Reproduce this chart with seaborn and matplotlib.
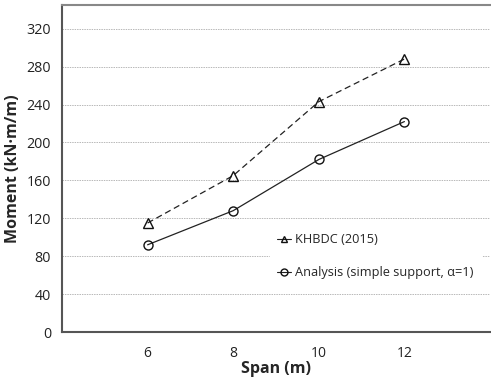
import matplotlib
matplotlib.use("Agg")
import matplotlib.pyplot as plt
import seaborn as sns
import pandas as pd

span = [6, 8, 10, 12]
khbdc = [115, 165, 243, 288]
analysis = [92, 128, 182, 222]
xticks = [6, 8, 10, 12]
yticks = [0, 40, 80, 120, 160, 200, 240, 280, 320]
label_khbdc = "KHBDC (2015)"
label_analysis = "Analysis (simple support, α=1)"

sns.set_theme(style="white")
plt.rcParams['font.family'] = ['Open Sans', 'DejaVu Sans']

df = pd.concat([
    pd.DataFrame({"Span": span, "Moment": khbdc, "Series": label_khbdc}),
    pd.DataFrame({"Span": span, "Moment": analysis, "Series": label_analysis}),
])

fig = plt.figure(figsize=(4.91, 3.82), dpi=100)
ax = fig.add_axes([62/491, 50/382, 428/491, 327/382])

sns.lineplot(data=df, x="Span", y="Moment", hue="Series", style="Series",
             markers={label_khbdc: "^", label_analysis: "o"},
             dashes={label_khbdc: (5, 3), label_analysis: ""},
             palette={label_khbdc: "#222222", label_analysis: "#222222"},
             markerfacecolor="none", markeredgecolor="#111111", markersize=6.5,
             markeredgewidth=1.0, linewidth=0.9, ax=ax)

ax.set_xlim(4, 14)
ax.set_ylim(0, 345)
ax.set_xticks(xticks)
ax.set_yticks(yticks)
ax.tick_params(axis='x', direction='in', length=4, color='#bbbbbb', labelsize=10, pad=10, labelcolor='#222222')
ax.tick_params(axis='y', length=0, labelsize=10.3, pad=8, labelcolor='#222222')
ax.yaxis.grid(True, linestyle=(0, (1.5, 1)), color='#b8b8b8', linewidth=0.7)
ax.set_axisbelow(True)

for s in ['left', 'bottom']:
    ax.spines[s].set_color('#555555')
    ax.spines[s].set_linewidth(1.5)
ax.spines['top'].set_color('#888888')
ax.spines['top'].set_linewidth(1.5)
ax.spines['right'].set_visible(False)

ax.set_xlabel("Span (m)", fontsize=11.5, fontweight='bold', labelpad=0)
ax.set_ylabel("Moment (kN·m/m)", fontsize=11.5, fontweight='bold', labelpad=4)

leg = ax.legend(loc='upper left', bbox_to_anchor=(0.47, 0.345), frameon=True,
                fontsize=9.2, handlelength=1.1, handletextpad=0.3, labelspacing=1.55,
                borderpad=0.6, fancybox=False)
leg.get_frame().set_edgecolor('white')
leg.get_frame().set_facecolor('white')
leg.get_frame().set_alpha(1)
for h in leg.legend_handles:
    h.set_markersize(5)
    h.set_linestyle('-')
    h.set_linewidth(0.8)

fig.savefig("out.png", dpi=100)
